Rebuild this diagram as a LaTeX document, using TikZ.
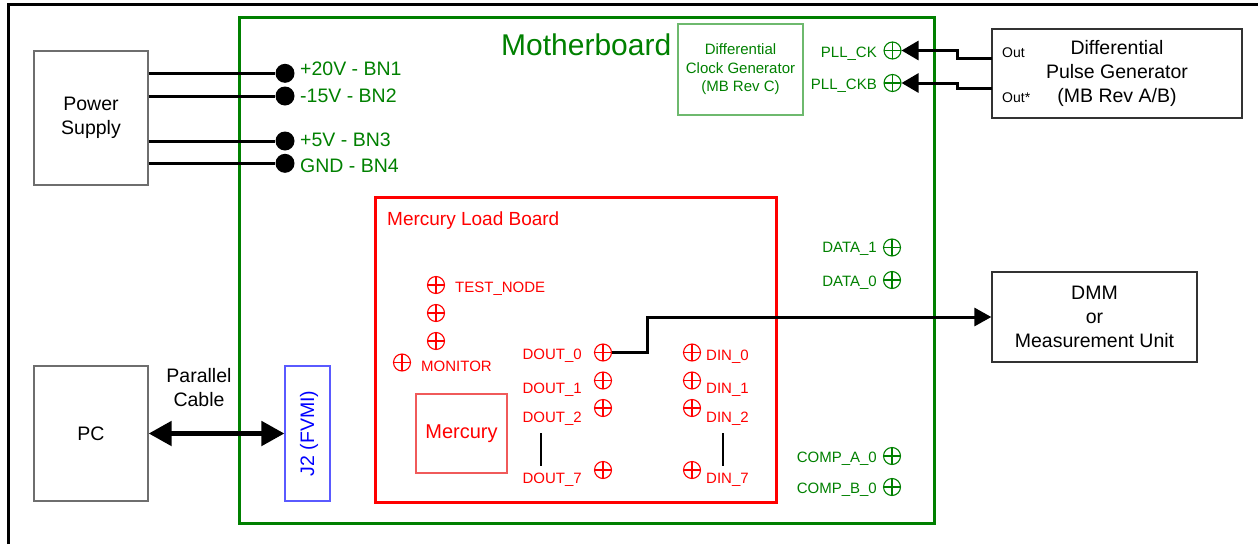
\documentclass[tikz,border=0pt]{standalone}
\usepackage{fontspec}
\setmainfont{Liberation Sans}
\usetikzlibrary{arrows.meta, positioning, calc}
\definecolor{mbgreen}{RGB}{0,128,0}
\definecolor{cgreen}{RGB}{110,185,110}
\definecolor{lbred}{RGB}{255,0,0}
\definecolor{mred}{RGB}{240,90,90}
\definecolor{jblue}{RGB}{0,0,255}
\definecolor{jbox}{RGB}{90,90,255}
\definecolor{boxgray}{RGB}{110,110,110}
\definecolor{boxdark}{RGB}{50,50,50}
\newcommand{\bigtxt}{\fontsize{19.5}{24}\selectfont}
\newcommand{\smalltxt}{\fontsize{15}{18.5}\selectfont}
\tikzset{blk/.style={draw=#1,line width=1.3pt,align=center,font=\bigtxt,inner sep=0pt}}
\tikzset{board/.style={draw=#1,line width=3pt,inner sep=0pt}}
\tikzset{tp/.style={circle,draw=#1,line width=1.1pt,minimum size=17pt,inner sep=0pt,
  path picture={\draw[#1,line width=1.1pt] (path picture bounding box.north) -- (path picture bounding box.south)
    (path picture bounding box.west) -- (path picture bounding box.east);}}}
\tikzset{bnd/.style={circle,fill=black,minimum size=19pt,inner sep=0pt}}
\tikzset{wire/.style={line width=3pt}}
\tikzset{pwr/.style={font=\bigtxt,text=mbgreen,anchor=base west,inner sep=0pt}}
\tikzset{lbl/.style={font=\smalltxt,text=#1,inner sep=0pt}}

\begin{document}
\begin{tikzpicture}[x=1pt,y=-1pt]
\useasboundingbox (0,0) rectangle (1258,544);
\draw[line width=3pt] (8,544) -- (8,4.5) -- (1258,4.5);

% boards
\node [board=mbgreen,minimum width=695pt,minimum height=506pt] at (586.5,270) (mb) {};
\node [font=\fontsize{30}{36}\selectfont,text=mbgreen,anchor=base west,inner sep=0pt] at (501,55) (mbname) {Motherboard};
\node [board=lbred,minimum width=401pt,minimum height=305pt] at (575.5,349.5) (lb) {};
\node [font=\fontsize{19}{23}\selectfont,text=lbred,anchor=base west,inner sep=0pt] at (387,225) (lbname) {Mercury Load Board};

% outside units
\node [blk=boxgray,minimum width=114pt,minimum height=134pt] at (91,118) (ps) {Power\\Supply};
\node [blk=boxgray,minimum width=114pt,minimum height=135pt] at (91,433.5) (pc) {PC};
\node [blk=boxdark,minimum width=250pt,minimum height=89pt] at (1117,73.5) (pg) {Differential\\Pulse Generator\\(MB Rev A/B)};
\node [lbl=black,font=\fontsize{14}{17}\selectfont,anchor=base west] at (1002,57) (out) {Out};
\node [lbl=black,font=\fontsize{14}{17}\selectfont,anchor=base west] at (1002,102) (outb) {Out*};
\node [blk=boxdark,minimum width=205pt,minimum height=90pt] at (1094.5,317) (dmm) {DMM\\or\\Measurement Unit};
\node [font=\bigtxt,align=center,inner sep=0pt] at (199,388) (cable) {Parallel\\Cable};

% on the motherboard
\node [blk=cgreen,line width=1.2pt,font=\smalltxt,text=mbgreen,minimum width=125pt,minimum height=91pt] at (740.5,69.5) (cg) {Differential\\Clock Generator\\(MB Rev C)};
\node [blk=jbox,line width=1.2pt,minimum width=45pt,minimum height=135pt] at (307.5,433.5) (j2) {};
\node [font=\bigtxt,text=jblue,rotate=90,inner sep=0pt] at (309,433.5) (j2name) {J2 (FVMI)};

\node [bnd] at (285,73.3) (bn1) {};
\node [bnd] at (285,96) (bn2) {};
\node [bnd] at (285,141) (bn3) {};
\node [bnd] at (285,163.3) (bn4) {};
\node [pwr] at (300,75) (bn1name) {+20V - BN1};
\node [pwr] at (300,102.5) (bn2name) {-15V - BN2};
\node [pwr] at (300,146) (bn3name) {+5V - BN3};
\node [pwr] at (300,172) (bn4name) {GND - BN4};

\node [tp=mbgreen] at (892.5,50.5) (pllck) {};
\node [tp=mbgreen] at (892.5,83) (pllckb) {};
\node [tp=mbgreen] at (892,247.5) (data1) {};
\node [tp=mbgreen] at (892,280) (data0) {};
\node [tp=mbgreen] at (892,456) (compa) {};
\node [tp=mbgreen] at (892,487) (compb) {};
\node [lbl=mbgreen,anchor=base east] at (877,57) (pllckname) {PLL\_CK};
\node [lbl=mbgreen,anchor=base east] at (877,89) (pllckbname) {PLL\_CKB};
\node [lbl=mbgreen,anchor=base east] at (877,252) (data1name) {DATA\_1};
\node [lbl=mbgreen,anchor=base east] at (877,286) (data0name) {DATA\_0};
\node [lbl=mbgreen,anchor=base east] at (877,462) (companame) {COMP\_A\_0};
\node [lbl=mbgreen,anchor=base east] at (877,493) (compbname) {COMP\_B\_0};

% on the load board
\node [blk=mred,line width=1.2pt,text=lbred,font=\fontsize{20}{24}\selectfont,minimum width=91pt,minimum height=79pt] at (461.5,433.5) (merc) {Mercury};
\node [tp=lbred] at (436,285) (tn1) {};
\node [tp=lbred] at (436,313) (tn2) {};
\node [tp=lbred] at (436,341) (tn3) {};
\node [tp=lbred] at (402,362.5) (mon) {};
\node [lbl=lbred,anchor=base west] at (455,292) (tnname) {TEST\_NODE};
\node [lbl=lbred,anchor=base west] at (421,371) (monname) {MONITOR};

\node [tp=lbred] at (603,352.5) (dout0) {};
\node [tp=lbred] at (603,380.5) (dout1) {};
\node [tp=lbred] at (603,408) (dout2) {};
\node [tp=lbred] at (603,470) (dout7) {};
\node [lbl=lbred,anchor=base east] at (582,359) (dout0name) {DOUT\_0};
\node [lbl=lbred,anchor=base east] at (582,393) (dout1name) {DOUT\_1};
\node [lbl=lbred,anchor=base east] at (582,422) (dout2name) {DOUT\_2};
\node [lbl=lbred,anchor=base east] at (582,483) (dout7name) {DOUT\_7};
\node [tp=lbred] at (692,352.5) (din0) {};
\node [tp=lbred] at (692,380.5) (din1) {};
\node [tp=lbred] at (692,408) (din2) {};
\node [tp=lbred] at (692,470) (din7) {};
\node [lbl=lbred,anchor=base west] at (706,360) (din0name) {DIN\_0};
\node [lbl=lbred,anchor=base west] at (706,393) (din1name) {DIN\_1};
\node [lbl=lbred,anchor=base west] at (706,422) (din2name) {DIN\_2};
\node [lbl=lbred,anchor=base west] at (706,483) (din7name) {DIN\_7};
\draw[line width=1.2pt] (541,433) -- (541,466);
\draw[line width=1.2pt] (723,433) -- (723,466);

% wiring
\draw[wire] (ps.east |- bn1) -- (bn1);
\draw[wire] (ps.east |- bn2) -- (bn2);
\draw[wire] (ps.east |- bn3) -- (bn3);
\draw[wire] (ps.east |- bn4) -- (bn4);
\coordinate (clk) at (992,58);
\coordinate (clkb) at (992,88);
\draw[wire,-{Triangle[length=17pt,width=19pt]}] (clk) -- ++(-35,0) |- (pllck.east);
\draw[wire,-{Triangle[length=17pt,width=19pt]}] (clkb) -- ++(-35,0) |- (pllckb.east);
\draw[wire,-{Triangle[length=17pt,width=18pt]}] (dout0.east) -- ++(35.5,0) |- (dmm.west);
\draw[line width=5pt,{Triangle[length=23pt,width=24pt]}-{Triangle[length=23pt,width=24pt]}] (pc.east) -- (j2.west);
\end{tikzpicture}
\end{document}
